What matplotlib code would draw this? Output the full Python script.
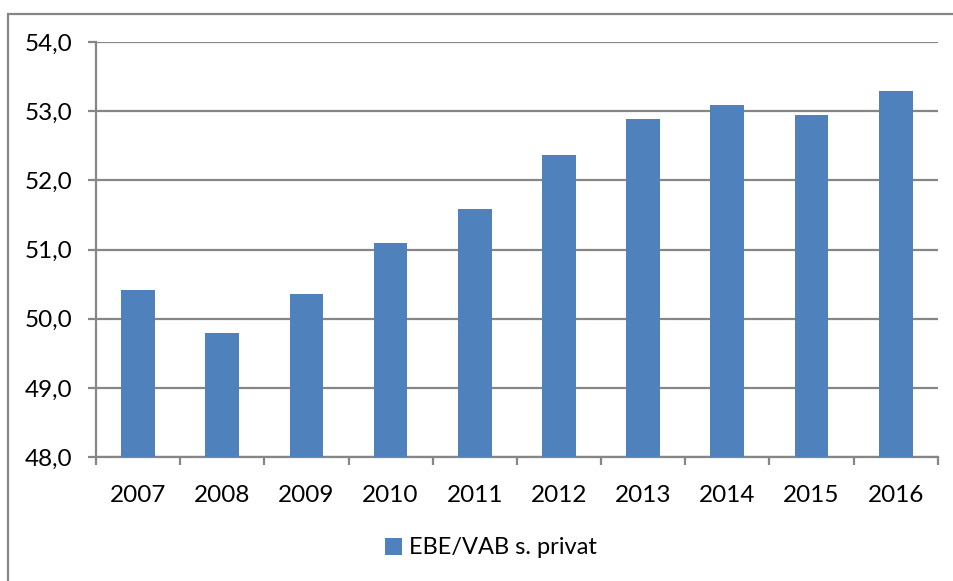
import numpy as np
import matplotlib.pyplot as plt
from matplotlib.patches import Rectangle

plt.rcParams['font.family'] = ['Lato', 'DejaVu Sans']

years = ['2007', '2008', '2009', '2010', '2011', '2012', '2013', '2014', '2015', '2016']
ebe_vab = [50.41, 49.80, 50.35, 51.10, 51.59, 52.37, 52.89, 53.09, 52.95, 53.29]
y_ticks = [48.0, 49.0, 50.0, 51.0, 52.0, 53.0, 54.0]

bar_color = '#4F81BD'
grid_color = '#868686'

fig = plt.figure(figsize=(9.54, 5.81), dpi=100)
ax = fig.add_axes([0.1006, 0.2134, 0.8824, 0.7143])

x = np.arange(len(years))
ax.bar(x, [v - 48 for v in ebe_vab], bottom=48, width=0.40, color=bar_color,
       label='EBE/VAB s. privat', zorder=3)

ax.set_xlim(-0.5, len(years) - 0.5)
ax.set_ylim(48, 54)
ax.set_yticks(y_ticks)
ax.set_yticklabels([f'{v:.1f}'.replace('.', ',') for v in y_ticks], fontsize=17.5)
ax.yaxis.grid(True, color=grid_color, linewidth=1.6, zorder=0)

# category labels between boundary ticks
ax.set_xticks(np.arange(-0.5, len(years), 1.0))
ax.set_xticklabels([])
ax.set_xticks(x, minor=True)
ax.set_xticklabels(years, minor=True, fontsize=17.5)
ax.tick_params(axis='x', which='minor', length=0, pad=20)
ax.tick_params(axis='x', which='major', length=6, width=1.6, color=grid_color)
ax.tick_params(axis='y', length=6, width=1.6, color=grid_color, pad=11)

for s in ['top', 'right']:
    ax.spines[s].set_visible(False)
for s in ['left', 'bottom']:
    ax.spines[s].set_color(grid_color)
    ax.spines[s].set_linewidth(1.6)

ax.legend(loc='center', bbox_to_anchor=(0.515, 0.057), bbox_transform=fig.transFigure,
          frameon=False, fontsize=17, handlelength=0.72, handleheight=0.72,
          handletextpad=0.3)

# outer chart border
fig.patches.append(Rectangle((8 / 954, -0.1), 1.2, 1.1 - 14 / 581,
                             transform=fig.transFigure, fill=False,
                             edgecolor=grid_color, linewidth=1.6))

fig.savefig('out.png', dpi=100)
